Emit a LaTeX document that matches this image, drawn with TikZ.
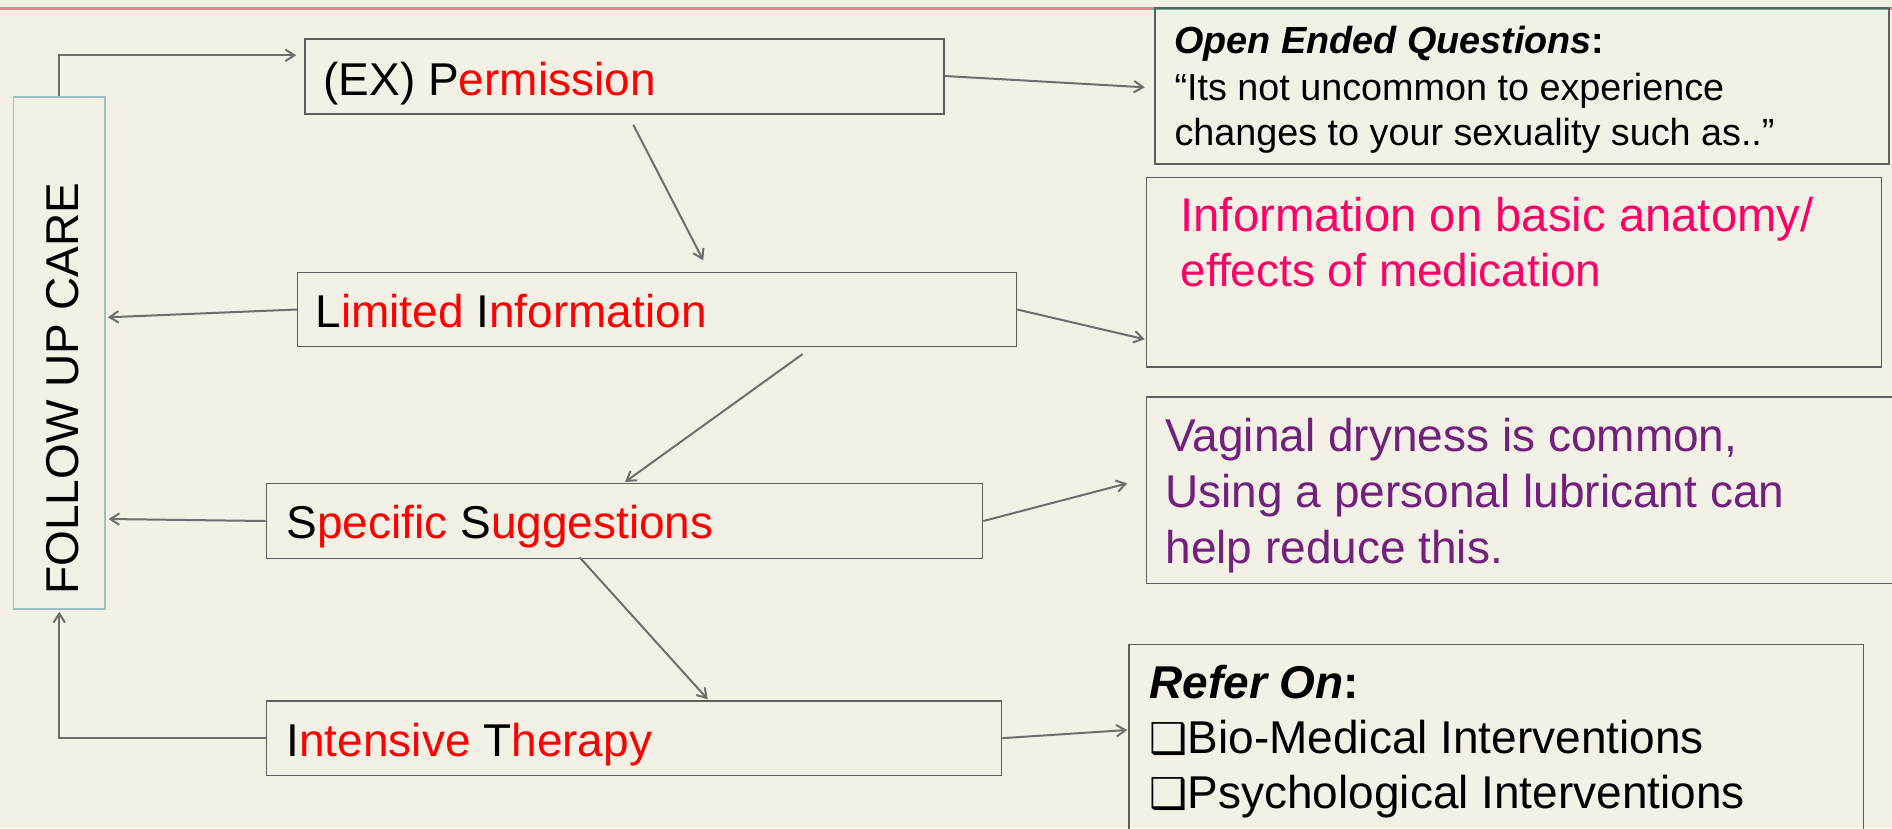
\documentclass[tikz,border=0pt]{standalone}
\usepackage{fontspec}
\setmainfont{Liberation Sans}
\newfontfamily\dvs{DejaVu Sans}
\usetikzlibrary{arrows.meta,calc,fit}
\definecolor{bgc}{HTML}{F3F1E6}
\definecolor{pinkc}{HTML}{EE7E90}
\definecolor{boxc}{HTML}{5E5E5E}
\definecolor{arrc}{HTML}{6E6E6E}
\definecolor{folc}{HTML}{9DC0C4}
\definecolor{redc}{HTML}{FF0000}
\definecolor{pinkt}{HTML}{FF0066}
\definecolor{purp}{HTML}{72207E}
\begin{document}
\begin{tikzpicture}[x=0.4pt,y=-0.4pt,
  box/.style={draw=boxc, line width=0.6pt, inner sep=0pt, rectangle},
  folbox/.style={draw=folc, line width=0.6pt, inner sep=0pt, rectangle},
  arr/.style={draw=arrc, line width=0.8pt, -{Straight Barb[length=3.6pt,width=4.6pt]}},
  big/.style={inner sep=0pt, anchor=base west, font=\fontsize{18.4}{22}\selectfont},
  bigger/.style={inner sep=0pt, anchor=base west, font=\fontsize{18.9}{22}\selectfont},
  small/.style={inner sep=0pt, anchor=base west, font=\fontsize{15.1}{18}\selectfont},
]
\useasboundingbox (0,0) rectangle (1892,828);
\begin{scope}
\clip (0,0) rectangle (1892,828);
\fill[bgc] (0,0) rectangle (1892,828);
\draw[pinkc, line width=1.2pt] (0,8.5) -- (1892,8.5);

% boxes
\node[folbox, fit={(13.5,97) (105,609)}] (fol) {};
\node[box, fit={(305,39) (944,114)}] (perm) {};
\node[box, fit={(1155,8) (1889,164)}] (open) {};
\node[box, fit={(1146.7,177.3) (1881.5,367)}] (info) {};
\node[box, fit={(297.6,272.3) (1016.5,346.7)}] (lim) {};
\node[box, fit={(266.4,483.7) (982.6,558.3)}] (spec) {};
\node[box, fit={(1146.7,397) (1900,583.7)}] (vag) {};
\node[box, fit={(266.4,701) (1001.6,775.3)}] (int) {};
\node[box, fit={(1128.8,644.7) (1863.7,850)}] (ref) {};

% texts
\node[big, rotate=90] (folT) at (78.4,595) {FOLLOW UP CARE};
\node[big] (permT) at (323,95) {(EX) P\textcolor{redc}{ermission}};
\node[small] (openT1) at (1174,53) {\textbf{\textit{Open Ended Questions}:}};
\node[small] (openT2) at (1174,100) {“Its not uncommon to experience};
\node[small] (openT3) at (1174,145.6) {changes to your sexuality such as..”};
\node[bigger, text=pinkt] (infoT1) at (1180,231.7) {Information on basic anatomy/};
\node[big, text=pinkt] (infoT2) at (1180,286.7) {effects of medication};
\node[big] (limT) at (315,327.7) {L\textcolor{redc}{imited }I\textcolor{redc}{nformation}};
\node[big] (specT) at (286,538.3) {S\textcolor{redc}{pecific }S\textcolor{redc}{uggestions}};
\node[big, text=purp] (vagT1) at (1165,451.7) {Vaginal dryness is common,};
\node[big, text=purp] (vagT2) at (1165,507.3) {Using a personal lubricant can};
\node[big, text=purp] (vagT3) at (1165,563.3) {help reduce this.};
\node[big] (intT) at (286,756) {I\textcolor{redc}{ntensive }T\textcolor{redc}{herapy}};
\node[big] (refT1) at (1149,698.3) {\textbf{\textit{Refer On}:}};
\node[big] (refT2) at (1149,753.3) {{\dvs\fontsize{17}{22}\selectfont ❑}Bio-Medical Interventions};
\node[big] (refT3) at (1149,808.3) {{\dvs\fontsize{17}{22}\selectfont ❑}Psychological Interventions};

% connectors
\draw[arr] (fol.north) |- ($(perm.west)+(-8,-21.2)$);
\draw[arr] ($(perm.east)+(0,-0.5)$) -- ($(open.west)+(-9.5,1.3)$);
\draw[arr] ($(perm.south west)+(329,10)$) -- ($(lim.north west)+(406.4,-11.3)$);
\draw[arr] (lim.west) -- ($(fol.east)+(2,-35.7)$);
\draw[arr] (lim.east) -- ($(info.west)+(-1.2,67.15)$);
\draw[arr] ($(lim.south west)+(505.8,6.6)$) -- ($(spec.north west)+(359.4,-1)$);
\draw[arr] (spec.west) -- ($(fol.east)+(2.8,166)$);
\draw[arr] (spec.east) -- ($(vag.west)+(-18.7,-7)$);
\draw[arr] ($(spec.south west)+(314.1,-1.6)$) -- ($(int.north west)+(442.1,-1)$);
\draw[arr] (int.west) -| ($(fol.south)+(0,2)$);
\draw[arr] (int.east) -- ($(ref.west)+(-0.8,-17.35)$);
\end{scope}
\end{tikzpicture}
\end{document}
